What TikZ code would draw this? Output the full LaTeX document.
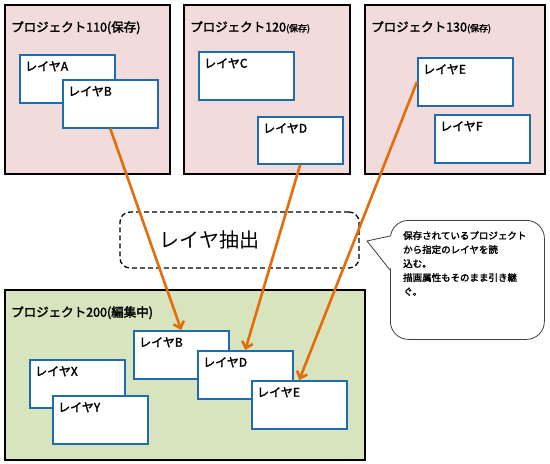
\documentclass[tikz,border=0pt]{standalone}
\usepackage{fontspec}
\setmainfont{Noto Sans CJK JP}[AutoFakeBold=2.2]
\usetikzlibrary{arrows.meta,calc}
\definecolor{projpink}{HTML}{F2DCDB}
\definecolor{projgreen}{HTML}{D7E4BD}
\definecolor{layerblue}{RGB}{31,108,172}
\definecolor{pullorange}{RGB}{228,108,10}
\begin{document}
\begin{tikzpicture}
  [
    x=1pt, y=-1pt,
    project/.style={draw, line width=1.6pt, fill=projpink, anchor=north west, inner sep=0pt},
    editing/.style={project, fill=projgreen},
    layer/.style={draw=layerblue, line width=1.5pt, fill=white, anchor=north west, minimum width=95pt, minimum height=48pt, inner sep=0pt},
    title/.style={anchor=north west, inner sep=0pt, xshift=7pt, yshift=-17pt, font=\fontsize{12.5}{14}\selectfont\bfseries},
    lname/.style={anchor=north west, inner sep=0pt, xshift=6pt, yshift=-7pt, font=\fontsize{12}{14}\selectfont\bfseries},
    pull/.style={draw=pullorange, line width=2.6pt, -{Straight Barb[length=6pt,width=11pt]}},
    extract/.style={draw, dash pattern=on 5pt off 3pt, line width=1.3pt, rounded corners=10pt, minimum width=239pt, minimum height=56pt, inner sep=0pt},
    bigtext/.style={inner sep=0pt, xshift=-30pt, font=\fontsize{20}{22}\selectfont},
    memo/.style={draw=black!75, line width=0.8pt, fill=white, rounded corners=18pt, anchor=north west, minimum width=154pt, minimum height=119pt, inner sep=0pt},
    memotext/.style={anchor=north west, align=left, inner sep=0pt, font=\fontsize{9.5}{14}\selectfont\bfseries}
  ]
  \useasboundingbox[fill=white] (0,0) rectangle (550,464);

  \node (p110) [project, minimum width=165pt, minimum height=169pt, label={[title]north west:プロジェクト110(保存)}] at (4,4) {};
  \node (p120) [project, minimum width=166pt, minimum height=169pt, label={[title]north west:プロジェクト120{\small(保存)}}] at (183,4) {};
  \node (p130) [project, minimum width=180pt, minimum height=169pt, label={[title]north west:プロジェクト130{\small(保存)}}] at (364,4) {};
  \node (p200) [editing, minimum width=360pt, minimum height=170pt, label={[title]north west:プロジェクト200(編集中)}] at (4,289) {};

  \node (la) [layer, label={[lname]north west:レイヤA}] at (19,54) {};
  \node (lb) [layer, label={[lname]north west:レイヤB}] at (62,79) {};
  \node (lc) [layer, label={[lname]north west:レイヤC}] at (198,51) {};
  \node (ld) [layer, minimum width=85pt, minimum height=47pt, label={[lname]north west:レイヤD}] at (257,116) {};
  \node (le) [layer, label={[lname]north west:レイヤE}] at (417,57) {};
  \node (lf) [layer, label={[lname]north west:レイヤF}] at (434,114) {};

  \node (lx) [layer, label={[lname]north west:レイヤX}] at (29,359) {};
  \node (ly) [layer, label={[lname]north west:レイヤY}] at (52,395) {};
  \node (lb2) [layer, label={[lname]north west:レイヤB}] at (133,330) {};
  \node (ld2) [layer, label={[lname]north west:レイヤD}] at (197,350) {};
  \node (le2) [layer, label={[lname]north west:レイヤE}] at (251,380) {};

  \node (ext) [extract, label={[bigtext]center:レイヤ抽出}] at (239.5,240) {};

  \draw [pull] (lb.south) -- (lb2.north);
  \draw [pull] (ld.south) -- (ld2.north);
  \draw [pull] (le.west) -- (le2.north);

  \node (memo) [memo] at (390,220) {};
  \coordinate (tip) at (367,241);
  \coordinate (pa) at (390,236);
  \coordinate (pb) at (390,270);
  \fill [white] ($(pa)+(2,0)$) -- (tip) -- ($(pb)+(2,0)$) -- cycle;
  \draw [draw=black!75, line width=0.8pt] (pa) -- (tip) -- (pb);
  \node (note) [memotext] at (403,231) {保存されているプロジェクト\\から指定のレイヤを読\\込む。\\描画属性もそのまま引き継\\ぐ。};
\end{tikzpicture}
\end{document}
